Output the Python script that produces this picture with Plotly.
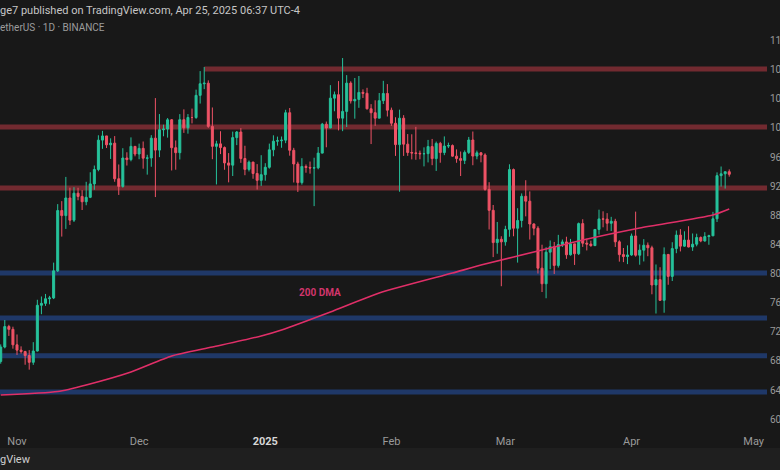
import pandas as pd
import plotly.graph_objects as go

# ---------------- data ----------------
dates = pd.date_range("2024-10-28", "2025-04-25", freq="D").strftime("%Y-%m-%d").tolist()

open_ = [
    67939, 69908, 72720, 72339,
    70216, 69482, 69289, 68742, 67811, 69359, 75640, 75905, 76538, 76649, 80370, 88648, 87952, 90375, 87325,
    91032, 90587, 89855, 90465, 92310, 94287, 98318, 98893, 97672, 97901, 93010, 91965, 95863, 95643, 97460,
    96408, 97185, 95840, 95866, 98587, 96945, 99740, 99831, 101110, 97276, 96593, 101126, 100004, 101424, 101420, 104463,
    106058, 106133, 100204, 97461, 97805, 97292, 95186, 94881, 98663, 99430, 95792, 94300, 95300, 93738, 92792,
    93576, 94592, 96985, 98175, 98236, 98315, 102078, 96923, 95043, 92484, 94701, 94566, 94488, 94516, 96534, 100505,
    99987, 104078, 104557, 101335, 102261, 106144, 103706, 103910, 104871, 104747, 102621, 102083, 101336, 103734, 104722,
    102429, 100635, 97700, 101328, 97763, 96613, 96554, 96506, 96444, 96462, 97430, 95778, 97870, 96608, 97500,
    97570, 96118, 95780, 95539, 96635, 98334, 96126, 96577, 96278, 91552, 88680, 84250, 84708,
    84349, 86065, 94270, 86221, 87281, 90606, 89931, 86801, 86222, 80735, 78596, 82933, 83681, 81116, 83983, 84339,
    82576, 84075, 82718, 86855, 84168, 84043, 83832, 86055, 87499, 87472, 86901, 87177, 84353, 82597, 82335,
    82549, 85159, 82516, 83213, 83890, 83537, 78430, 79163, 76322, 82616, 79608, 83424, 85277, 83760, 84592,
    83643, 84031, 84947, 84474, 85077, 85179, 87517, 93442, 93692, 93980,
]
high = [
    70270, 73620, 72962, 72700,
    71632, 70000, 69389, 69483, 70577, 76400, 76850, 77199, 76932, 81500, 89530, 89940, 93265, 91790, 91850,
    91779, 91449, 92594, 93905, 94831, 98984, 99588, 98907, 98565, 98871, 94973, 97208, 96650, 98693, 97463,
    97836, 98130, 96305, 99000, 104088, 101898, 100439, 101350, 101215, 98270, 101888, 102540, 101895, 102650, 105250, 107793,
    108353, 106524, 102800, 98233, 99540, 97448, 96538, 99487, 99569, 99963, 97544, 95525, 95340, 95024, 96250,
    95150, 97840, 98977, 98800, 98813, 102482, 102724, 97259, 95350, 95836, 94979, 95378, 95900, 97371, 100681, 100866,
    105865, 104988, 106422, 109588, 107240, 106394, 106850, 107120, 105286, 105500, 103260, 103784, 104783, 106457, 106012,
    102783, 101456, 102500, 101744, 99149, 99120, 100137, 96880, 97323, 98345, 98478, 98119, 98083, 98826, 97972,
    97725, 97046, 96753, 96899, 98756, 99497, 96880, 96671, 96503, 92541, 89414, 87078, 85120,
    86558, 95000, 94416, 88967, 91000, 92811, 91283, 86897, 86500, 83955, 83617, 84539, 84336, 85309, 84676, 85053,
    84756, 84075, 87000, 87453, 84782, 84513, 86094, 88765, 88543, 88292, 87786, 87515, 84567, 83505, 83870,
    85487, 88500, 83998, 84720, 84266, 83817, 81243, 80867, 83588, 82700, 84300, 85905, 86100, 85799, 86496,
    85500, 85470, 85095, 85677, 85320, 88466, 93888, 94696, 94000, 94300,
]
low = [
    67620, 69729, 71436, 69685,
    68820, 69016, 67478, 66803, 67458, 69298, 74415, 75554, 75773, 76493, 80216, 85072, 86127, 86668, 87073,
    90057, 88722, 89376, 90357, 91500, 94040, 97122, 97231, 95734, 92600, 90791, 91792, 94827, 95407, 96092,
    95693, 94395, 93578, 94660, 90500, 95981, 98844, 98657, 94150, 94256, 95658, 99311, 99205, 100609, 101237, 103333,
    105321, 100000, 95700, 92232, 96398, 94250, 92520, 93390, 97632, 95200, 93500, 94015, 93010, 91530, 92034,
    92743, 94400, 96100, 97550, 97268, 97900, 96181, 92500, 91203, 92206, 93840, 93712, 89256, 94310, 96500, 97335,
    99950, 102277, 99651, 99550, 100119, 103340, 101262, 102750, 104106, 102520, 97777, 100273, 101328, 103282, 101560,
    100279, 96150, 91231, 96150, 96155, 95676, 95620, 95688, 94713, 95256, 94876, 94088, 95217, 96252, 97223,
    96046, 95205, 93388, 95030, 96415, 94871, 95688, 95270, 91371, 86050, 82256, 82716, 78258,
    83824, 85050, 85117, 81500, 86334, 87852, 84667, 85248, 80000, 77459, 76606, 80607, 79939, 80818, 83640, 82017,
    82457, 81180, 82536, 83655, 83175, 83675, 83794, 85346, 86346, 85862, 85837, 83646, 81634, 81565, 81293,
    82432, 82320, 81211, 81659, 82379, 77153, 74509, 76239, 74620, 78456, 78972, 82792, 83035, 83678, 83600,
    83111, 83736, 84298, 84377, 83949, 85144, 87076, 91935, 91661, 93300,
]
close = [
    69908, 72720, 72339, 70215,
    69482, 69289, 68741, 67811, 69359, 75639, 75905, 76538, 76649, 80370, 88647, 87952, 90375, 87325, 91032,
    90586, 89855, 90464, 92310, 94286, 98317, 98892, 97673, 97900, 93010, 91965, 95863, 95643, 97460, 96407,
    97185, 95840, 95866, 98587, 96945, 99740, 99831, 101109, 97276, 96593, 101125, 100004, 101424, 101420, 104463, 106058,
    106133, 100204, 97461, 97805, 97292, 95187, 94881, 98663, 99430, 95792, 94300, 95300, 93738, 92792, 93576,
    94592, 96984, 98174, 98236, 98314, 102078, 96922, 95043, 92484, 94701, 94566, 94488, 94516, 96534, 100505, 99987,
    104077, 104556, 101335, 102260, 106143, 103706, 103910, 104870, 104746, 102620, 102082, 101335, 103733, 104722, 102429,
    100635, 97700, 101328, 97763, 96612, 96554, 96506, 96444, 96462, 97430, 95778, 97869, 96608, 97500, 97570,
    96118, 95780, 95539, 96635, 98334, 96125, 96577, 96273, 91552, 88680, 84250, 84708, 84349,
    86065, 94270, 86220, 87281, 90606, 89931, 86801, 86222, 80735, 78595, 82932, 83680, 81116, 83983, 84339, 82575,
    84075, 82719, 86854, 84167, 84043, 83832, 86054, 87498, 87471, 86900, 87177, 84353, 82597, 82334, 82548,
    85158, 82516, 83213, 83889, 83537, 78430, 79163, 76322, 82616, 79607, 83423, 85276, 83760, 84592, 83643,
    84030, 84947, 84474, 85077, 85179, 87516, 93442, 93691, 93980, 93620,
]
assert len(dates) == len(open_) == len(high) == len(low) == len(close)

dma_dates = ["2024-10-28", "2024-11-11", "2024-11-18", "2024-11-29", "2024-12-09", "2024-12-19",
             "2024-12-31", "2025-01-05", "2025-01-17", "2025-01-29", "2025-02-16", "2025-02-24",
             "2025-03-10", "2025-03-20", "2025-04-03", "2025-04-21", "2025-04-25"]
dma_values = [63320, 63800, 64700, 66480, 68680, 69910, 71420, 72250, 74720, 77330, 80070, 81310,
              83230, 84600, 86250, 88040, 88860]

resistance_levels = [108080, 100120, 91740]
resistance_starts = ["2024-12-17", "2024-10-01", "2024-10-01"]
support_levels = [80070, 73900, 68720, 63730]

# price scale: the reference is cropped at the right edge, only the first two digits show
price_ticks = [60000, 64000, 68000, 72000, 76000, 80000, 84000, 88000,
               92000, 96000, 100000, 104000, 108000, 112000]
price_labels = ["60", "64", "68", "72", "76", "80", "84", "88", "92", "96", "10", "10", "10", "11"]
month_ticks = ["2024-11-01", "2024-12-01", "2025-01-01", "2025-02-01", "2025-03-01", "2025-04-01", "2025-05-01"]
month_labels = ["Nov", "Dec", "<span style='color:#d6d6d6'><b>2025</b></span>", "Feb", "Mar", "Apr", "May"]

# ---------------- style ----------------
BG = "#181818"
UP = "#26c29b"
DN = "#ef5366"
RES = "#722a30"
SUP = "#1f3868"
FONT = "Roboto"
W, H = 780, 470

fig = go.Figure()
fig.add_trace(go.Candlestick(
    x=dates, open=open_, high=high, low=low, close=close,
    increasing=dict(line=dict(color=UP, width=1), fillcolor=UP),
    decreasing=dict(line=dict(color=DN, width=1), fillcolor=DN),
    whiskerwidth=0, showlegend=False, hoverinfo="skip",
))
fig.add_trace(go.Scatter(
    x=dma_dates, y=dma_values, mode="lines",
    line=dict(color="#e02f68", width=1.6, shape="spline", smoothing=0.6),
    showlegend=False, hoverinfo="skip",
))

shapes = []
for lvl, start in zip(resistance_levels, resistance_starts):
    shapes.append(dict(type="line", xref="x", yref="y", x0=start, x1="2025-06-01",
                       y0=lvl, y1=lvl, line=dict(color=RES, width=5), layer="below"))
for lvl in support_levels:
    shapes.append(dict(type="line", xref="x", yref="y", x0="2024-10-01", x1="2025-06-01",
                       y0=lvl, y1=lvl, line=dict(color=SUP, width=5), layer="below"))
# footer band
shapes.append(dict(type="rect", xref="paper", yref="paper", x0=0, x1=1, y0=0, y1=(H - 448) / H,
                   fillcolor="#1f1f1f", line=dict(width=0), layer="below"))

annotations = [
    dict(xref="paper", yref="paper", x=0, y=1 - 10 / H, xanchor="left", yanchor="middle", xshift=-2,
         text="ge7 published on TradingView.com, Apr 25, 2025 06:37 UTC-4", showarrow=False,
         font=dict(family=FONT, size=11, color="#c6c6c6")),
    dict(xref="paper", yref="paper", x=0, y=1 - 27 / H, xanchor="left", yanchor="middle", xshift=-2,
         text="etherUS · 1D · BINANCE", showarrow=False,
         font=dict(family=FONT, size=10, color="#9c9c9c")),
    dict(xref="x", yref="y", x="2025-01-14 10:00", y=77330, xanchor="center", yanchor="middle",
         text="<b>200 DMA</b>", showarrow=False,
         font=dict(family=FONT, size=10, color="#d2356c")),
    dict(xref="paper", yref="paper", x=0, y=1 - 459 / H, xanchor="left", yanchor="middle", xshift=-2,
         text="gView", showarrow=False,
         font=dict(family=FONT, size=11, color="#cfcfcf")),
]

fig.update_layout(
    width=W, height=H, margin=dict(l=0, r=0, t=0, b=0),
    paper_bgcolor=BG, plot_bgcolor=BG, showlegend=False,
    font=dict(family=FONT),
    shapes=shapes, annotations=annotations,
    xaxis=dict(type="date", range=["2024-10-27 19:45", "2025-05-04 06:40"], domain=[0, 767 / W],
               rangeslider=dict(visible=False), showgrid=False, zeroline=False, showline=False,
               tickvals=month_ticks, ticktext=month_labels, ticks="", ticklabelstandoff=5,
               tickfont=dict(family=FONT, size=11, color="#9a9a9a")),
    yaxis=dict(range=[58792, 112339], domain=[(H - 428) / H, (H - 38) / H], side="right",
               tickvals=price_ticks, ticktext=price_labels, ticks="", showgrid=False,
               zeroline=False, showline=False, automargin=False, ticklabelstandoff=2,
               tickfont=dict(family=FONT, size=10, color="#9a9a9a")),
)

fig.write_html(
    "out.html",
    config={"displayModeBar": False},
    post_script="document.body.style.margin='0';document.body.style.background='%s';" % BG,
)
